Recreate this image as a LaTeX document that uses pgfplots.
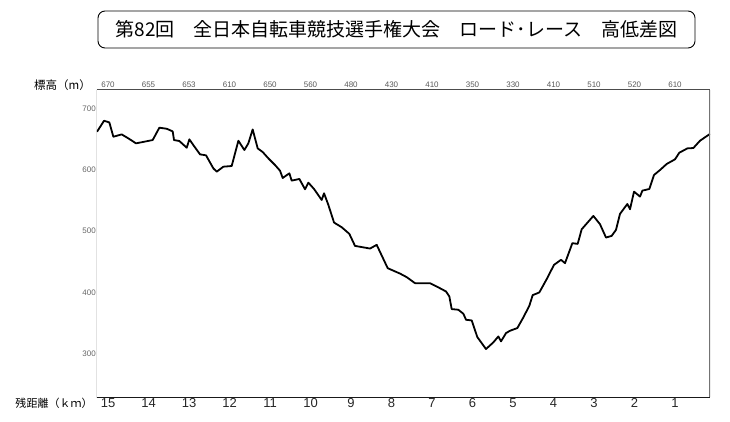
\documentclass[border=0pt]{standalone}
\usepackage{fontspec}
\setmainfont{Liberation Sans}
\newfontfamily\cjk{Noto Sans CJK JP}
\usepackage{pgfplots}
\pgfplotsset{compat=1.18}
\begin{document}
\begin{tikzpicture}[x=1pt,y=1pt]
\path[use as bounding box] (0,0) rectangle (730,421);
% title
\draw[rounded corners=7pt, line width=0.9pt] (98,373) rectangle (695,410);
\node at (396.5,391.5) {\cjk\fontsize{19}{19}\selectfont 第82回　全日本自転車競技選手権大会　ロード･レース　高低差図};
\node at (62.5,336) {\cjk\fontsize{11.5}{12}\selectfont 標高（m）};
\node at (54,18) {\cjk\fontsize{11}{12}\selectfont 残距離（ｋｍ）};
\begin{axis}[
  at={(97pt,24pt)}, anchor=south west,
  width=613pt, height=307pt, scale only axis,
  x dir=reverse,
  xmin=0.136, xmax=15.272, ymin=230, ymax=730,
  axis line style={draw=none},
  xtick={15,14,...,1}, ytick={300,400,500,600,700},
  tick style={draw=none},
  xticklabel style={font=\fontsize{13}{13}\selectfont, inner sep=1.5pt, text=black!85},
  yticklabel style={font=\fontsize{8}{8}\selectfont, inner sep=1pt, text=black!60},
  /pgf/number format/assume math mode=true,
  clip=true,
]
\addplot[black, line width=1.8pt, line join=round] coordinates {
(15.272,662.0) (15.098,679.9) (14.967,677.2) (14.868,653.9) (14.662,657.7)
(14.497,651.2) (14.308,643.1) (13.897,648.5) (13.732,668.6) (13.551,666.9)
(13.403,662.6) (13.370,648.5) (13.238,646.9) (13.057,636.0) (12.991,649.6)
(12.876,638.7) (12.728,625.2) (12.580,623.6) (12.399,602.4) (12.316,597.0)
(12.152,605.1) (11.946,606.2) (11.781,647.4) (11.633,632.2) (11.535,643.1)
(11.428,665.8) (11.304,634.9) (11.181,629.0) (11.041,618.7) (10.876,607.8)
(10.753,598.6) (10.687,586.7) (10.522,594.3) (10.465,582.4) (10.275,585.1)
(10.135,568.3) (10.053,579.1) (9.913,568.8) (9.724,550.9) (9.666,561.8)
(9.559,542.8) (9.419,514.1) (9.230,506.5) (9.041,495.7) (8.901,476.1)
(8.530,471.8) (8.366,477.8) (8.094,439.8) (7.790,431.0) (7.625,425.2)
(7.420,415.4) (7.049,415.4) (6.885,410.0) (6.654,401.9) (6.572,393.8)
(6.514,373.2) (6.350,372.1) (6.226,365.6) (6.160,355.8) (6.020,354.7)
(5.881,327.6) (5.667,308.1) (5.485,319.0) (5.362,328.7) (5.296,320.6)
(5.173,334.1) (5.074,337.9) (4.893,342.3) (4.745,359.6) (4.597,378.6)
(4.514,395.9) (4.350,400.3) (4.169,421.9) (3.988,445.2) (3.815,453.4)
(3.716,448.0) (3.535,480.5) (3.403,479.4) (3.304,503.2) (3.016,524.9)
(2.852,511.4) (2.704,489.7) (2.564,492.4) (2.457,502.2) (2.358,528.2)
(2.177,544.4) (2.111,535.8) (2.012,564.5) (1.864,556.4) (1.806,566.1)
(1.634,568.8) (1.518,591.6) (1.370,599.7) (1.206,609.5) (1.000,617.1)
(0.893,627.9) (0.695,634.9) (0.547,635.5) (0.383,647.4) (0.136,658.5)
};
\draw[black!70, line width=1pt] (rel axis cs:0,1) -- (rel axis cs:1,1);
\draw[black!55, line width=1.8pt] (rel axis cs:1,1) -- (rel axis cs:1,0);
\draw[black!90, line width=1pt] (rel axis cs:0,1) -- (rel axis cs:0,0) -- (rel axis cs:1,0);
\end{axis}
\begin{axis}[
  at={(97pt,24pt)}, anchor=south west,
  width=613pt, height=307pt, scale only axis,
  x dir=reverse,
  xmin=0.136, xmax=15.272, ymin=230, ymax=730,
  axis line style={draw=none},
  hide y axis,
  axis x line*=top,
  xtick={15,14,...,1},
  xticklabels={670,655,653,610,650,560,480,430,410,350,330,410,510,520,610},
  tick style={draw=none},
  xticklabel style={font=\fontsize{8}{8}\selectfont, inner sep=2pt, text=black!65},
  /pgf/number format/assume math mode=true,
]
\end{axis}
\end{tikzpicture}
\end{document}
